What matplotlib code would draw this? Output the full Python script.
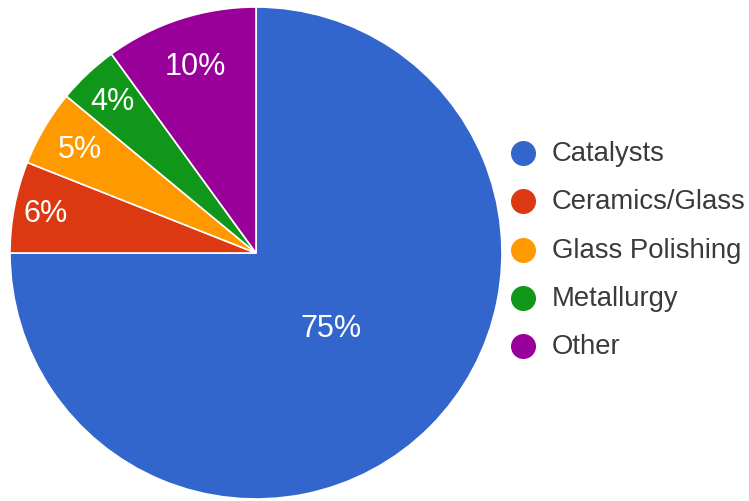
import numpy as np
import matplotlib.pyplot as plt

plt.rcParams['font.family'] = ['Liberation Sans', 'DejaVu Sans']

labels = ['Catalysts', 'Ceramics/Glass', 'Glass Polishing', 'Metallurgy', 'Other']
values = [75, 6, 5, 4, 10]
colors = ['#3366CC', '#DC3912', '#FF9900', '#109618', '#990099']
# how far out each percent label sits (fraction of radius)
label_r = [0.43, 0.87, 0.83, 0.85, 0.80]

W, H = 749, 502
fig = plt.figure(figsize=(W / 100, H / 100), dpi=100)
ax = fig.add_axes([0, 0, 1, 1])

cx, cy, r = 256, H - 254, 246
wedges, _ = ax.pie(values, colors=colors, startangle=90, counterclock=False,
                   center=(cx, cy), radius=r, frame=True,
                   wedgeprops=dict(edgecolor='white', linewidth=1.2))
ax.set_xlim(0, W)
ax.set_ylim(0, H)
ax.set_aspect('equal')
ax.axis('off')

total = sum(values)
start = 90.0
for v, f in zip(values, label_r):
    span = 360.0 * v / total
    mid = np.radians(start - span / 2)
    start -= span
    ax.text(cx + f * r * np.cos(mid), cy + f * r * np.sin(mid), f'{v}%',
            color='white', fontsize=22, ha='center', va='center')

# legend
for i, (lab, c) in enumerate(zip(labels, colors)):
    y = H - (154 + 48.3 * i)
    ax.scatter([523], [y], s=17 ** 2, color=c, zorder=5)
    ax.text(552, y, lab, fontsize=19.8, color='#3a3a3a', ha='left', va='center')

fig.savefig('out.png', dpi=100)
